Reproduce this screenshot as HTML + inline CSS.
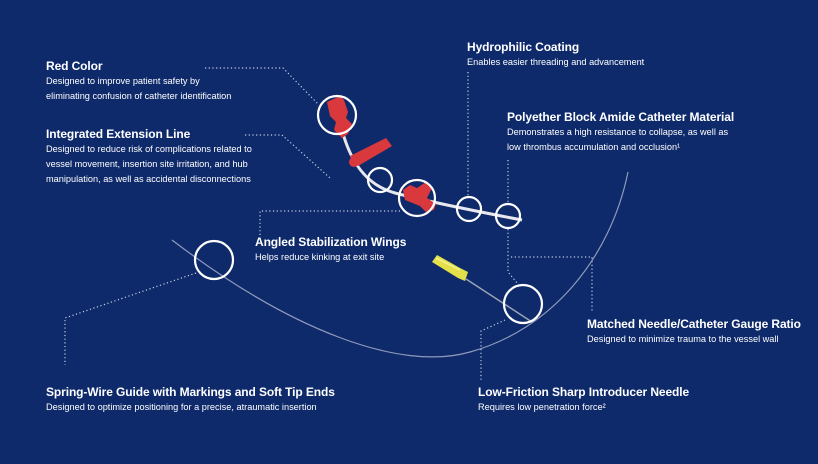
<!DOCTYPE html>
<html><head><style>
body{margin:0;width:818px;height:464px;background:#0e2a6b;overflow:hidden;position:relative;font-family:"Liberation Sans",sans-serif;color:#fff}
.t{position:absolute;font-weight:bold;font-size:12px;letter-spacing:-0.1px;white-space:nowrap}
.d{position:absolute;font-size:9.2px;line-height:15px;white-space:nowrap}
svg{position:absolute;left:0;top:0}
</style></head><body>
<svg width="818" height="464">
<g fill="none" stroke="#c8d0e6" stroke-width="1.2" stroke-dasharray="1.2 2.5">
<polyline points="205,68 283,68 318,104"/>
<polyline points="245,135 282,135 330,178"/>
<line x1="468" y1="72" x2="468" y2="197"/>
<line x1="508" y1="160" x2="508" y2="205"/>
<polyline points="508,229 508,272 518,284"/>
<polyline points="511,257 592,257 592,312"/>
<polyline points="400,211 260,211 260,235"/>
<polyline points="505,320 481,331 481,380"/>
<polyline points="196,273 65,318 65,365"/>
</g>
<path d="M172,240 C290,330 400,372 470,352 C550,330 610,260 628,172" fill="none" stroke="#8e9abb" stroke-width="1.2"/>
<path d="M342,130 C350,160 365,185 395,193 C430,202 480,212 522,220" fill="none" stroke="#e8e8ee" stroke-width="3"/>
<g fill="#d9383c">
<path d="M327,102 L340,96 L344,100 L348,112 L346,118 L352,124 L348,134 L342,138 L334,130 L336,122 L330,116 Z"/>
<path d="M350,156 L386,138 L392,146 L358,166 Z"/>
<circle cx="354" cy="162" r="5"/>
<path d="M403,190 L410,185 L417,188 L426,182 L432,188 L427,198 L436,204 L434,210 L426,212 L420,206 L405,200 Z"/>
</g>
<path d="M432,262 L437,255 L460,268 L468,272 L465,281 L458,278 Z" fill="#e3e04a"/>
<path d="M436,258 L460,270" stroke="#f4f290" stroke-width="1.5"/>
<line x1="466" y1="279" x2="532" y2="322" stroke="#9aa4b8" stroke-width="1.5"/>
<g fill="none" stroke="#fff" stroke-width="2.2">
<circle cx="337" cy="115" r="19"/>
<circle cx="380" cy="180" r="12"/>
<circle cx="417" cy="198" r="18"/>
<circle cx="469" cy="209" r="12"/>
<circle cx="508" cy="216" r="12"/>
<circle cx="214" cy="260" r="19"/>
<circle cx="523" cy="304" r="19"/>
</g>
</svg>
<div class="t" style="left:46px;top:59px">Red Color</div>
<div class="d" style="left:46px;top:74px">Designed to improve patient safety by<br>eliminating confusion of catheter identification</div>
<div class="t" style="left:46px;top:127px">Integrated Extension Line</div>
<div class="d" style="left:46px;top:142px">Designed to reduce risk of complications related to<br>vessel movement, insertion site irritation, and hub<br>manipulation, as well as accidental disconnections</div>
<div class="t" style="left:467px;top:40px">Hydrophilic Coating</div>
<div class="d" style="left:467px;top:55px">Enables easier threading and advancement</div>
<div class="t" style="left:507px;top:110px">Polyether Block Amide Catheter Material</div>
<div class="d" style="left:507px;top:125px">Demonstrates a high resistance to collapse, as well as<br>low thrombus accumulation and occlusion¹</div>
<div class="t" style="left:255px;top:235px">Angled Stabilization Wings</div>
<div class="d" style="left:255px;top:250px">Helps reduce kinking at exit site</div>
<div class="t" style="left:587px;top:317px">Matched Needle/Catheter Gauge Ratio</div>
<div class="d" style="left:587px;top:332px">Designed to minimize trauma to the vessel wall</div>
<div class="t" style="left:46px;top:385px">Spring-Wire Guide with Markings and Soft Tip Ends</div>
<div class="d" style="left:46px;top:400px">Designed to optimize positioning for a precise, atraumatic insertion</div>
<div class="t" style="left:478px;top:385px">Low-Friction Sharp Introducer Needle</div>
<div class="d" style="left:478px;top:400px">Requires low penetration force²</div>
</body></html>
